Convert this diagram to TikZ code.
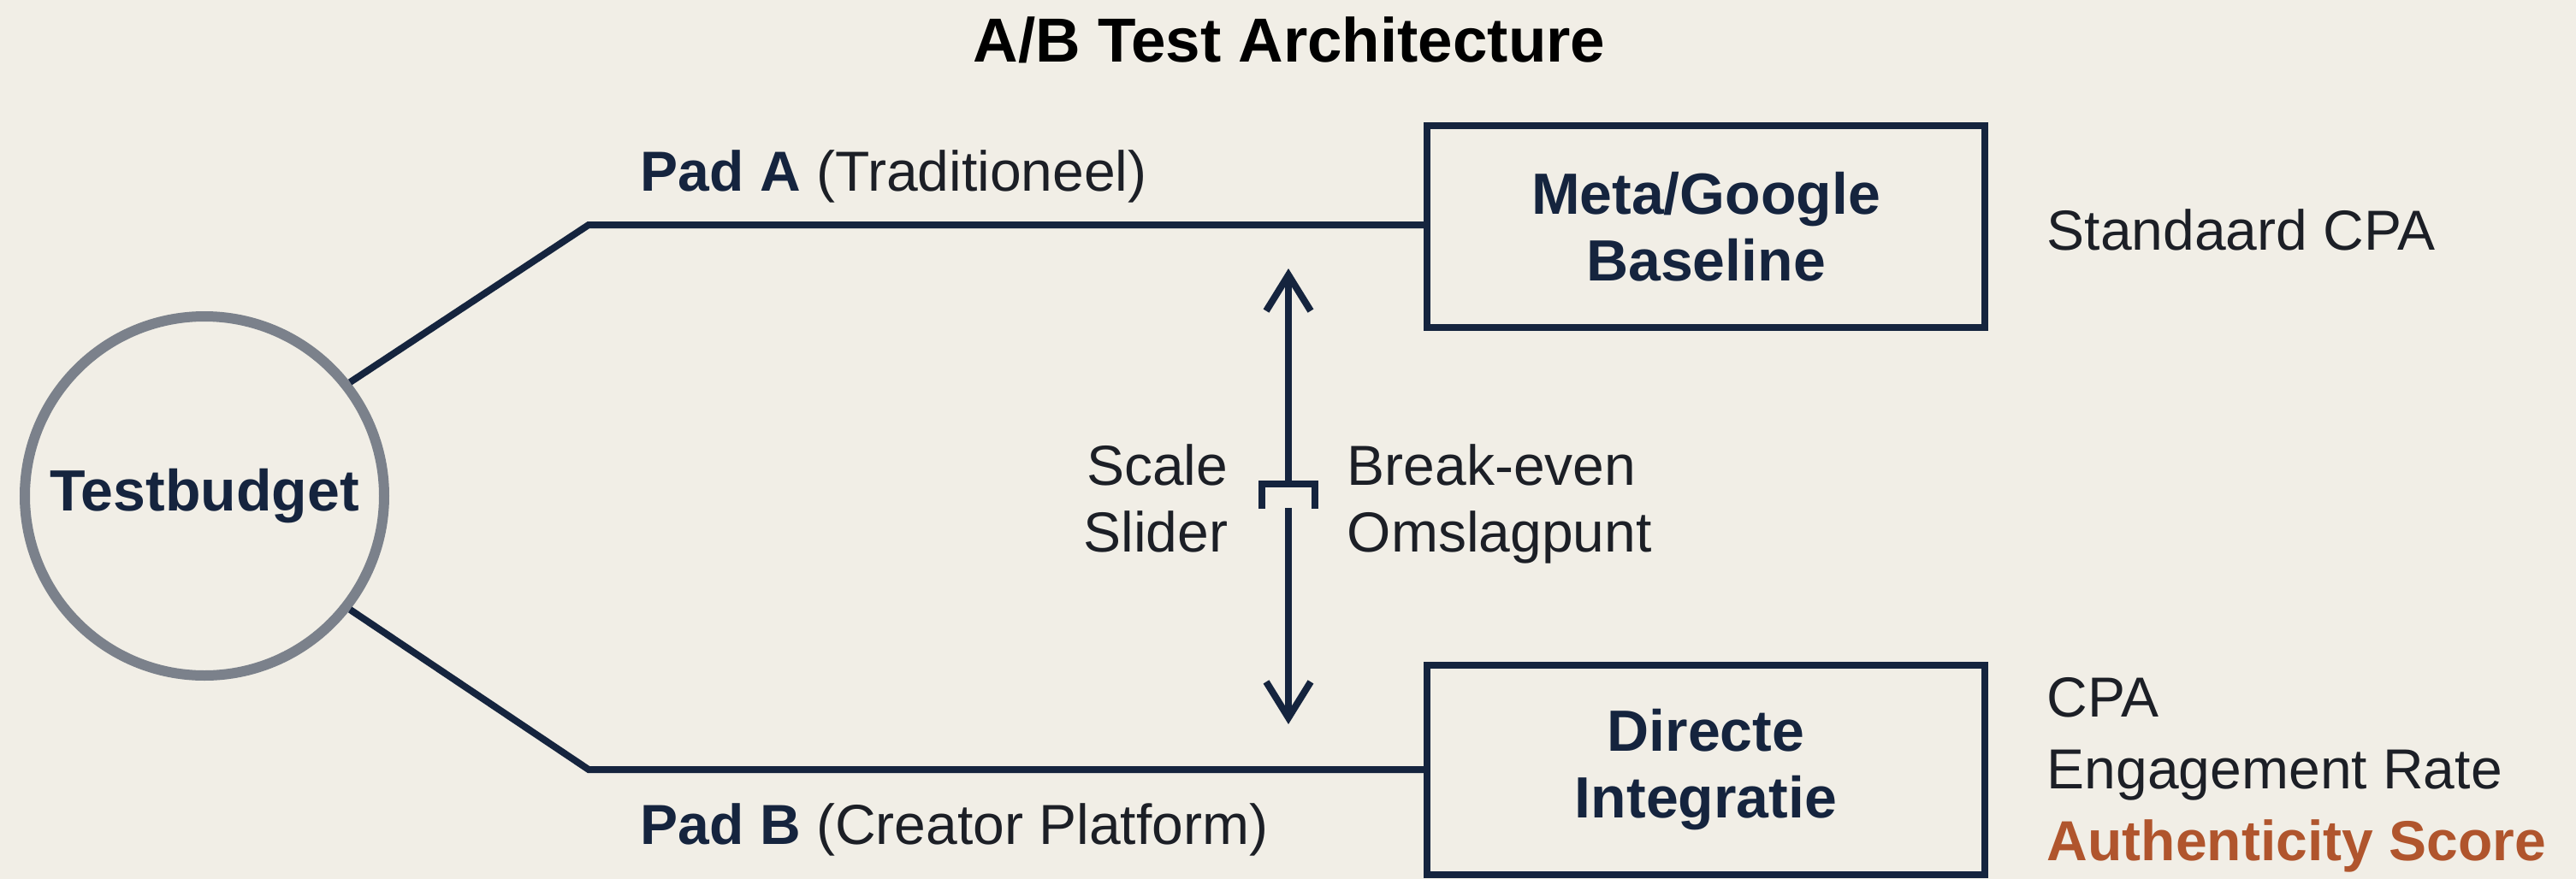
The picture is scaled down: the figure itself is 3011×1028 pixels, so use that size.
\documentclass[tikz,border=0pt]{standalone}
\usepackage{fontspec}
\setmainfont{Liberation Sans}
\usepackage{tikz}
\usetikzlibrary{arrows.meta}

\definecolor{navy}{HTML}{15243E}
\definecolor{ringgray}{HTML}{7B818B}
\definecolor{rust}{HTML}{B0552D}
\definecolor{paper}{HTML}{F1EEE6}
\definecolor{ink}{HTML}{1C1F26}

\begin{document}
\begin{tikzpicture}[x=0.25pt, y=-0.25pt,
  wire/.style={navy, line width=2pt},
  tip/.style={-{Straight Barb[length=10.5pt, width=13pt]}},
  box/.style={draw=navy, line width=2pt, minimum width=163pt, inner sep=0pt,
    align=center, text=navy, font=\fontsize{17}{19.5}\selectfont\bfseries},
  plain/.style={inner sep=0pt, text=ink, font=\fontsize{16.5}{19.5}\selectfont}]

\useasboundingbox (0,0) rectangle (3011,1028);
\fill[paper] (0,0) rectangle (3011,1028);

% title
\path
(1507,72) node [anchor=base, inner sep=0pt, font=\fontsize{18.2}{20}\selectfont\bfseries] (title){A/B Test Architecture};

%% budget ring and the two paths
\path
(239,580) node [circle, draw=ringgray, line width=3pt, minimum size=105pt, inner sep=0pt,
  text=navy, font=\fontsize{17}{20}\selectfont\bfseries] (budget){Testbudget};

\path
(1994,265) node [box, minimum height=59pt] (baseline){Meta/Google\\Baseline};
\path
(1994,900) node [box, minimum height=61.25pt] (direct){Directe\\Integratie};

\coordinate (bendA) at (688,263);
\coordinate (bendB) at (688,900);

\draw[wire] (budget.38) -- (bendA) -- (bendA -| baseline.west);
\draw[wire] (budget.-38) -- (bendB) -- (direct.west);

\path
(748,223) node [plain, anchor=base west] (padA){\textbf{\color{navy}Pad A} (Traditioneel)};
\path
(748,987) node [plain, anchor=base west] (padB){\textbf{\color{navy}Pad B} (Creator Platform)};

%% metrics next to the boxes (base = last line)
\path
(2392,292) node [plain, anchor=base west] (stdcpa){Standaard CPA};
\path
(2392,1006) node [plain, anchor=base west, align=left, font=\fontsize{16.5}{21}\selectfont] (metrics)
  {CPA\\Engagement Rate\\\textcolor{rust}{\textbf{Authenticity Score}}};

%% scale slider
\coordinate (sltop) at (1506,314);
\coordinate (slbot) at (1506,847);
\coordinate (knee) at (1506,566);
\coordinate (kneelow) at (1506,594);

\draw[wire, tip] (knee) -- (sltop);
\draw[wire, tip] (kneelow) -- (slbot);
\draw[wire] (knee) ++(-31,29) |- (knee) -| ++(31,29);

\path
(1436,645) node [plain, anchor=base east, align=right] (scale){Scale\\Slider};
\path
(1574,645) node [plain, anchor=base west, align=left] (breakeven){Break-even\\Omslagpunt};

\end{tikzpicture}
\end{document}
